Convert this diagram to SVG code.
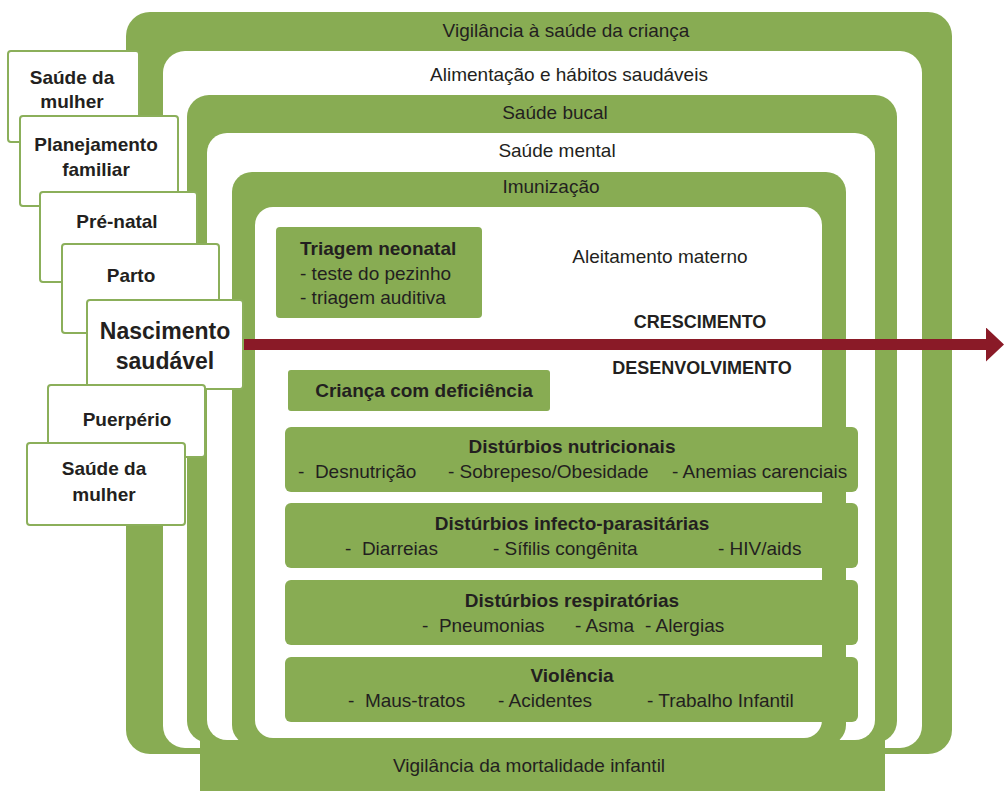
<svg xmlns="http://www.w3.org/2000/svg" width="1004" height="791" viewBox="0 0 1004 791">
<defs>
<style>
.g{fill:#88AC53}
.w{fill:#FFFFFF}
.t{font-family:"Liberation Sans",Arial,sans-serif;font-size:19px;fill:#231F20}
.b{font-weight:bold}
.c{text-anchor:middle}
.card{fill:#FFFFFF;stroke:#8BAF5A;stroke-width:2}
.box{fill:#88AC53}
</style>
<marker id="ah" markerUnits="userSpaceOnUse" markerWidth="18" markerHeight="34" viewBox="0 0 18 34" refX="0" refY="17" orient="auto">
<path d="M0,0 L18,17 L0,34 Z" fill="#8A1A27"/>
</marker>
</defs>
<rect width="1004" height="791" fill="#FFFFFF"/>

<g id="vigilancia-saude">
<rect class="g" x="126" y="12" width="826" height="742" rx="24"/>
<text class="t c" x="566" y="37">Vigilância à saúde da criança</text>
</g>
<g id="alimentacao">
<rect class="w" x="163" y="51" width="759" height="697" rx="22"/>
<text class="t c" x="569" y="81">Alimentação e hábitos saudáveis</text>
</g>
<g id="saude-bucal">
<rect class="g" x="187" y="95" width="710" height="648" rx="22"/>
<text class="t c" x="555" y="119">Saúde bucal</text>
</g>
<g id="saude-mental">
<rect class="w" x="207" y="133" width="668" height="607" rx="20"/>
<text class="t c" x="557" y="157">Saúde mental</text>
</g>
<g id="imunizacao">
<rect class="g" x="232" y="172" width="614" height="573" rx="20"/>
<text class="t c" x="551" y="193">Imunização</text>
</g>
<g id="aleitamento">
<rect class="w" x="255" y="207" width="567" height="531" rx="18"/>
<text class="t c" x="660" y="263">Aleitamento materno</text>
</g>
<g id="mortalidade">
<rect class="g" x="200" y="740" width="685" height="51"/>
<text class="t c" x="529" y="772">Vigilância da mortalidade infantil</text>
</g>

<g id="triagem">
<rect class="box" x="276" y="227" width="206" height="91" rx="4"/>
<text class="t b" x="300" y="255">Triagem neonatal</text>
<text class="t" x="300" y="280">- teste do pezinho</text>
<text class="t" x="300" y="304">- triagem auditiva</text>
</g>
<g id="crescimento">
<text class="t b c" x="700" y="328" style="font-size:18px">CRESCIMENTO</text>
</g>
<g id="desenvolvimento">
<text class="t b c" x="702" y="374" style="font-size:18px">DESENVOLVIMENTO</text>
</g>
<g id="deficiencia">
<rect class="box" x="288" y="370" width="262" height="41" rx="3"/>
<text class="t b c" x="424" y="397">Criança com deficiência</text>
</g>
<g id="nutricionais">
<rect class="box" x="285" y="427" width="573" height="65" rx="6"/>
<text class="t b c" x="572" y="453">Distúrbios nutricionais</text>
<text class="t" x="298" y="478" xml:space="preserve">-  Desnutrição</text>
<text class="t" x="448" y="478">- Sobrepeso/Obesidade</text>
<text class="t" x="672" y="478">- Anemias carenciais</text>
</g>
<g id="infecto">
<rect class="box" x="285" y="503" width="573" height="65" rx="6"/>
<text class="t b c" x="572" y="530">Distúrbios infecto-parasitárias</text>
<text class="t" x="345" y="555" xml:space="preserve">-  Diarreias</text>
<text class="t" x="493" y="555">- Sífilis congênita</text>
<text class="t" x="718" y="555">- HIV/aids</text>
</g>
<g id="respiratorias">
<rect class="box" x="285" y="580" width="573" height="65" rx="6"/>
<text class="t b c" x="572" y="607">Distúrbios respiratórias</text>
<text class="t" x="422" y="632" xml:space="preserve">-  Pneumonias</text>
<text class="t" x="575" y="632">- Asma</text>
<text class="t" x="645" y="632">- Alergias</text>
</g>
<g id="violencia">
<rect class="box" x="285" y="657" width="573" height="65" rx="6"/>
<text class="t b c" x="572" y="682">Violência</text>
<text class="t" x="348" y="707" xml:space="preserve">-  Maus-tratos</text>
<text class="t" x="498" y="707">- Acidentes</text>
<text class="t" x="647" y="707">- Trabalho Infantil</text>
</g>

<g id="saude-mulher-1">
<rect class="card" x="8" y="51" width="131" height="91" rx="3"/>
<text class="t b c" x="72" y="84">Saúde da</text>
<text class="t b c" x="72" y="108">mulher</text>
</g>
<g id="planejamento">
<rect class="card" x="20" y="116" width="158" height="90" rx="3"/>
<text class="t b c" x="96" y="151">Planejamento</text>
<text class="t b c" x="96" y="176">familiar</text>
</g>
<g id="pre-natal">
<rect class="card" x="40" y="192" width="157" height="90" rx="3"/>
<text class="t b c" x="117" y="228">Pré-natal</text>
</g>
<g id="parto">
<rect class="card" x="62" y="244" width="157" height="89" rx="3"/>
<text class="t b c" x="131" y="282">Parto</text>
</g>
<g id="nascimento">
<rect class="card" x="87" y="300" width="156" height="89" rx="3"/>
<text class="t b c" x="165" y="339" style="font-size:23px">Nascimento</text>
<text class="t b c" x="165" y="369" style="font-size:23px">saudável</text>
</g>
<g id="puerperio">
<rect class="card" x="48" y="385" width="157" height="72" rx="3"/>
<text class="t b c" x="127" y="426">Puerpério</text>
</g>
<g id="saude-mulher-2">
<rect class="card" x="27" y="443" width="158" height="82" rx="3"/>
<text class="t b c" x="104" y="475">Saúde da</text>
<text class="t b c" x="104" y="501">mulher</text>
</g>

<g id="connectors">
<line x1="244" y1="344.5" x2="986" y2="344.5" stroke="#8A1A27" stroke-width="11" marker-end="url(#ah)"/>
</g>
</svg>
